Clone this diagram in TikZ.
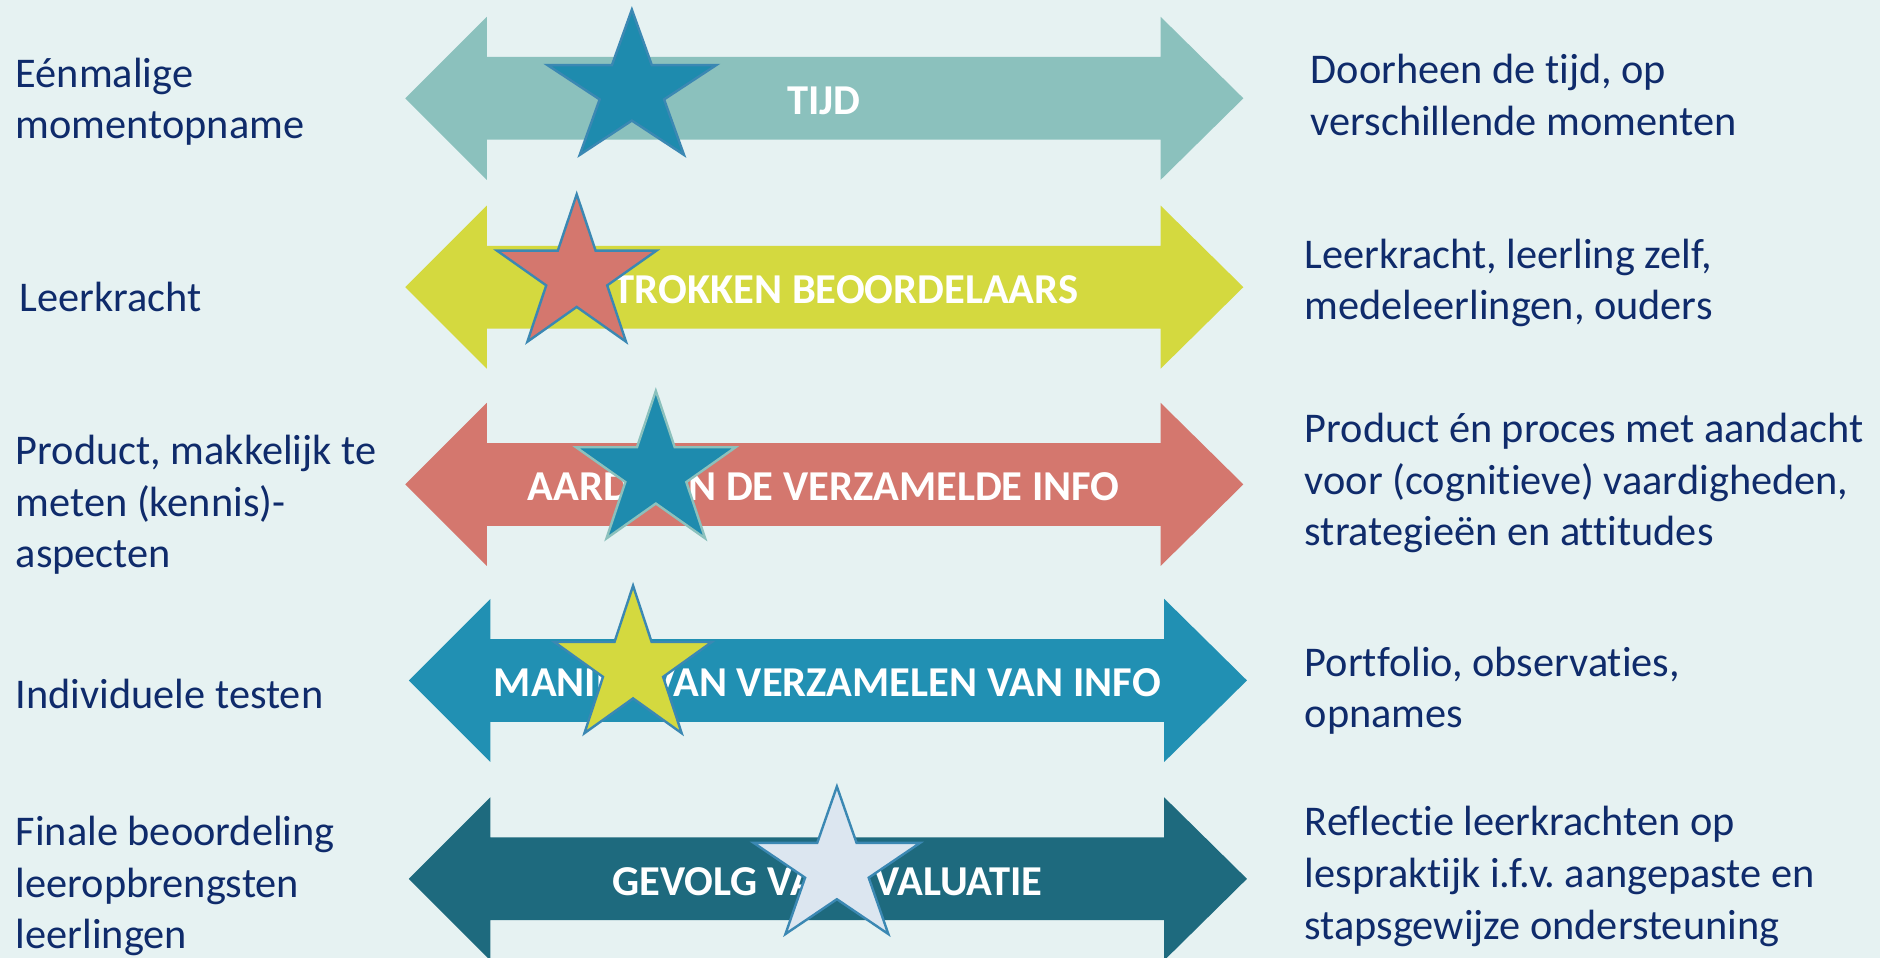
\documentclass[tikz,border=0pt]{standalone}
\usepackage{fontspec}
\setmainfont{Carlito}[Ligatures=CommonOff]
\frenchspacing

\definecolor{bgcol}{HTML}{E6F2F2}
\definecolor{txtcol}{HTML}{0F2B6B}
\definecolor{tijdcol}{HTML}{8BC1BD}
\definecolor{beoorcol}{HTML}{D4D93F}
\definecolor{aardcol}{HTML}{D4776E}
\definecolor{maniercol}{HTML}{2190B3}
\definecolor{gevolgcol}{HTML}{1E6A7E}
\definecolor{starblue}{HTML}{1E8BAE}
\definecolor{starpale}{HTML}{DCE6F0}
\definecolor{starline}{HTML}{3B88B3}

\tikzset{
  bandlabel/.style={text=white, inner sep=0pt, font=\bfseries\fontsize{35.5}{40}\selectfont},
  sidetext/.style={text=txtcol, align=left, anchor=west, inner sep=0pt,
    font=\fontsize{35.3}{43}\selectfont},
  rating star/.style={line width=2pt, line join=miter},
  pics/ratingstar/.style={code={
    \path[pic actions] (90:1) \foreach \k in {0,...,3} { -- ({126+72*\k}:0.382) -- ({162+72*\k}:1) }
      -- (414:0.382) -- cycle;
  }}
}

\begin{document}
\begin{tikzpicture}[x=1pt, y=1pt]
  \useasboundingbox (0,0) rectangle (1568,-799);
  \clip (0,0) rectangle (1568,-799);
  \fill[bgcol] (0,0) rectangle (1568,-799);

  % double arrows with their labels
  \foreach \c/\l/\col/\nm/\txt in {82/338/tijdcol/tijd/TIJD,
      239.5/338/beoorcol/beoor/BETROKKEN BEOORDELAARS,
      404/338/aardcol/aard/AARD VAN DE VERZAMELDE INFO,
      567.5/341/maniercol/manier/MANIER VAN VERZAMELEN VAN INFO,
      733/341/gevolgcol/gevolg/GEVOLG VAN EVALUATIE} {
    \fill[\col] (\l,-\c) -- ++(68,68) -- ++(0,-33.5) -- ++(562,0) -- ++(0,33.5)
      -- ++(69,-68) -- ++(-69,-68) -- ++(0,33.5) -- ++(-562,0) -- ++(0,-33.5) -- cycle;
    \node[bandlabel] (\nm) at (\l+349,-\c-2) {\txt};
  }

  % stars
  \pic[rating star, fill=starblue, draw=starline, xscale=74, yscale=67] (s1) at (527,-75) {ratingstar};
  \pic[rating star, fill=aardcol, draw=starline, xscale=70, yscale=68] (s2) at (481,-230) {ratingstar};
  \pic[rating star, fill=starblue, draw=tijdcol, xscale=70, yscale=68] (s3) at (547,-394) {ratingstar};
  \pic[rating star, fill=beoorcol, draw=starline, xscale=69, yscale=68] (s4) at (528,-556.5) {ratingstar};
  \pic[rating star, fill=starpale, draw=starline, xscale=73, yscale=68] (s5) at (698,-724) {ratingstar};

  % left column
  \node[sidetext] (l1) at (13,-85) {Eénmalige\\momentopname};
  \node[sidetext] (l2) at (16,-248) {Leerkracht};
  \node[sidetext] (l3) at (13,-421) {Product, makkelijk te\\meten (kennis)-\\aspecten};
  \node[sidetext] (l4) at (13,-579) {Individuele testen};
  \node[sidetext] (l5) at (13,-739) {Finale beoordeling\\leeropbrengsten\\leerlingen};

  % right column
  \node[sidetext] (r1) at (1093,-79) {Doorheen de tijd, op\\verschillende momenten};
  \node[sidetext] (r2) at (1088,-236) {Leerkracht, leerling zelf,\\medeleerlingen, ouders};
  \node[sidetext] (r3) at (1088,-403) {Product én proces met aandacht\\voor (cognitieve) vaardigheden,\\strategieën en attitudes};
  \node[sidetext] (r4) at (1088,-576) {Portfolio, observaties,\\opnames};
  \node[sidetext] (r5) at (1088,-731) {Reflectie leerkrachten op\\lespraktijk i.f.v. aangepaste en\\stapsgewijze ondersteuning};
\end{tikzpicture}
\end{document}
